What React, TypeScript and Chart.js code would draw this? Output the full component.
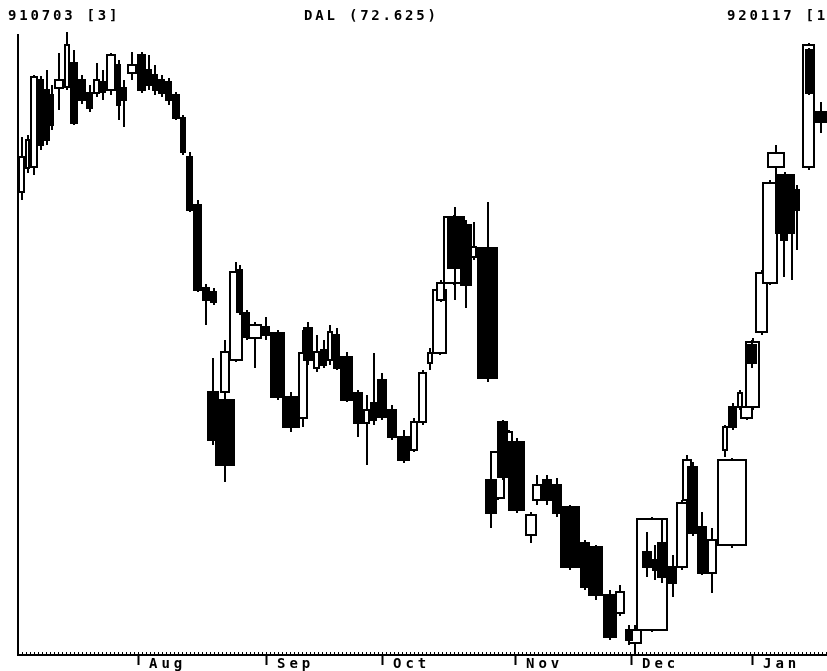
import React, { useEffect, useRef } from "react";
import { Chart, registerables } from "chart.js";

Chart.register(...registerables);

// ---- header texts ----
const headerLeft = "910703 [3]";
const headerCenter = "DAL (72.625)";
const headerRight = "920117 [140]";

// ---- month axis (cumulative volume where each month starts) ----
const monthLabels = ["Aug", "Sep", "Oct", "Nov", "Dec", "Jan"];
const monthStart = [120, 248, 364, 497, 613, 734];

// ---- candlevolume data: start (cumulative volume), volume (width), OHLC ----
const dayStart = [
  0, 7, 12, 20, 26, 32, 36, 46, 52, 60,
  68, 75, 82, 88, 98, 103, 109, 119, 128, 134,
  140, 147, 154, 162, 168, 175, 184, 192, 189, 197,
  202, 211, 218, 225, 230, 244, 252, 264, 280, 285,
  295, 302, 309, 315, 322, 335, 345, 352, 359, 369,
  379, 392, 400, 409, 414, 418, 425, 429, 442, 452,
  459, 467, 472, 479, 487, 490, 507, 514, 524, 534,
  542, 562, 570, 585, 597, 607, 610, 618, 624, 634,
  639, 650, 658, 664, 669, 679, 689, 699, 704, 710,
  719, 722, 727, 729, 737, 744, 749, 757, 762, 770,
  775, 784, 787, 797,
];
const dayVolume = [
  7, 5, 8, 6, 6, 4, 10, 6, 8, 8,
  7, 7, 6, 10, 5, 6, 10, 9, 6, 6,
  7, 7, 8, 6, 7, 9, 8, 7, 12, 20,
  10, 14, 7, 7, 14, 8, 15, 18, 10, 10,
  7, 7, 6, 7, 13, 10, 7, 7, 10, 10,
  13, 8, 9, 6, 15, 9, 22, 16, 12, 7,
  21, 12, 15, 11, 8, 17, 12, 10, 10, 10,
  20, 10, 15, 14, 10, 8, 14, 32, 10, 6,
  10, 9, 12, 10, 11, 10, 10, 30, 6, 9,
  6, 13, 15, 10, 13, 16, 18, 20, 8, 7,
  7, 13, 8, 12,
];
const openP = [
  69.15, 70.35, 70.4, 74.75, 74.25, 74.0, 74.35, 74.4, 75.6, 74.75,
  74.1, 74.1, 74.65, 74.25, 75.5, 74.35, 75.1, 76.0, 75.25, 75.0,
  74.75, 74.65, 74.0, 72.85, 70.9, 68.5, 64.35, 64.15, 59.15, 58.75,
  59.15, 60.75, 65.25, 63.1, 61.85, 62.4, 62.1, 58.9, 57.85, 62.35,
  60.35, 61.25, 60.75, 62.0, 60.9, 59.1, 57.6, 58.6, 59.75, 58.25,
  56.9, 56.25, 57.65, 60.6, 61.1, 63.75, 64.6, 67.85, 67.5, 65.9,
  66.35, 54.75, 53.85, 57.65, 55.1, 56.65, 52.0, 53.75, 54.75, 54.5,
  53.4, 51.6, 51.4, 49.0, 48.1, 47.25, 46.6, 47.25, 51.15, 50.75,
  51.6, 50.4, 50.4, 53.75, 55.4, 52.4, 50.1, 51.5, 56.25, 58.4,
  58.4, 57.85, 58.4, 61.5, 62.15, 64.6, 70.4, 70.0, 68.75, 69.0,
  69.25, 70.4, 76.25, 73.15,
];
const highP = [
  71.9, 72.0, 75.0, 74.95, 75.25, 74.5, 76.1, 77.15, 76.25, 75.0,
  74.5, 75.6, 75.25, 76.1, 75.75, 74.75, 76.15, 76.15, 76.0, 75.5,
  75.0, 74.85, 74.15, 73.0, 71.15, 68.75, 64.55, 64.35, 60.85, 59.0,
  61.75, 65.65, 65.5, 63.25, 62.65, 62.9, 62.25, 59.15, 62.25, 62.65,
  62.0, 61.75, 62.5, 62.35, 61.15, 59.25, 59.0, 61.1, 60.1, 58.5,
  57.25, 57.85, 60.25, 61.35, 64.5, 64.75, 68.0, 68.4, 67.75, 67.65,
  68.65, 55.25, 56.35, 57.75, 57.25, 56.85, 53.15, 55.0, 55.0, 54.85,
  53.5, 51.75, 51.5, 49.25, 49.5, 47.5, 47.5, 52.9, 52.15, 51.5,
  52.75, 51.0, 53.75, 56.0, 55.65, 53.15, 52.35, 55.85, 57.5, 58.6,
  59.25, 58.6, 61.85, 61.75, 65.25, 69.75, 71.5, 70.15, 69.0, 69.25,
  69.5, 76.6, 76.35, 73.65,
];
const lowP = [
  68.75, 70.1, 70.0, 71.25, 71.5, 72.25, 73.25, 74.25, 72.5, 73.55,
  73.15, 73.9, 73.75, 74.0, 72.75, 72.4, 74.75, 74.1, 74.25, 74.0,
  73.9, 73.5, 72.75, 71.0, 68.15, 64.15, 62.5, 63.5, 56.5, 54.65,
  59.0, 60.65, 63.0, 61.75, 60.35, 61.75, 58.75, 57.15, 57.4, 60.5,
  60.15, 60.35, 60.5, 60.25, 58.65, 56.9, 55.5, 57.5, 57.75, 56.75,
  55.6, 56.15, 57.5, 60.25, 61.0, 63.65, 64.5, 63.75, 63.35, 65.75,
  59.65, 52.35, 53.75, 54.75, 55.0, 53.1, 51.6, 53.5, 53.5, 52.9,
  50.25, 49.25, 48.75, 46.75, 47.95, 46.5, 46.0, 47.15, 49.9, 49.75,
  49.6, 48.9, 50.25, 53.65, 51.95, 50.0, 49.1, 51.35, 55.9, 57.25,
  58.25, 57.75, 58.25, 60.35, 62.0, 64.5, 70.0, 66.75, 64.9, 64.75,
  66.25, 70.25, 74.0, 72.1,
];
const closeP = [
  70.9, 71.75, 74.9, 71.5, 71.75, 72.5, 74.75, 76.5, 72.6, 73.75,
  73.35, 74.75, 74.15, 76.0, 73.5, 73.75, 75.5, 74.25, 74.5, 74.25,
  74.1, 73.75, 72.85, 71.15, 68.25, 64.25, 63.75, 63.65, 56.75, 55.5,
  61.15, 65.15, 63.15, 61.9, 62.5, 62.0, 58.9, 57.4, 61.1, 60.75,
  61.15, 60.5, 62.15, 60.35, 58.75, 57.6, 58.25, 57.75, 57.9, 56.9,
  55.75, 57.65, 60.1, 61.1, 64.25, 64.6, 67.9, 65.35, 64.5, 66.4,
  59.85, 53.1, 56.15, 54.9, 57.15, 53.25, 53.0, 54.5, 53.75, 53.1,
  50.4, 49.4, 49.0, 46.9, 49.15, 46.75, 47.25, 52.8, 50.4, 50.25,
  49.9, 49.6, 53.6, 55.75, 52.1, 50.1, 51.75, 55.75, 57.4, 57.4,
  59.1, 58.4, 61.65, 60.6, 65.1, 69.6, 71.1, 67.1, 66.75, 67.25,
  68.25, 76.5, 74.1, 72.625,
];

const X_MAX = 809;
const Y_MIN = 46;
const Y_MAX = 77;
const AXIS_MINOR_STEP = 4;

const MONO = "'DejaVu Sans Mono', 'Liberation Mono', monospace";

const count = () =>
  Math.min(dayStart.length, dayVolume.length, openP.length, highP.length, lowP.length, closeP.length);

const candlePlugin = {
  id: "candles",
  afterDatasetsDraw(chart: any) {
    const { ctx, scales } = chart;
    const xs = scales.x;
    const ys = scales.y;
    const n = count();
    const whites: number[] = [];
    const blacks: number[] = [];
    for (let i = 0; i < n; i++) (closeP[i] >= openP[i] ? whites : blacks).push(i);
    ctx.save();
    ctx.strokeStyle = "#000";
    ctx.lineWidth = 2;
    for (const i of [...whites, ...blacks]) {
      const x0 = Math.round(xs.getPixelForValue(dayStart[i]));
      const x1 = Math.round(xs.getPixelForValue(dayStart[i] + dayVolume[i]));
      const xm = Math.round((x0 + x1) / 2);
      const yo = ys.getPixelForValue(openP[i]);
      const yc = ys.getPixelForValue(closeP[i]);
      const yh = Math.round(ys.getPixelForValue(highP[i]));
      const yl = Math.round(ys.getPixelForValue(lowP[i]));
      const top = Math.round(Math.min(yo, yc));
      const bot = Math.round(Math.max(yo, yc));
      ctx.fillStyle = "#000";
      ctx.fillRect(xm - 1, yh, 2, yl - yh);
      if (closeP[i] >= openP[i]) {
        ctx.fillStyle = "#fff";
        ctx.fillRect(x0, top, x1 - x0, Math.max(bot - top, 1));
        ctx.strokeRect(x0 + 1, top, x1 - x0 - 2, Math.max(bot - top, 1));
      } else {
        ctx.fillStyle = "#000";
        ctx.fillRect(x0, top - 1, x1 - x0, Math.max(bot - top + 2, 2));
      }
    }
    ctx.restore();
  },
};

const decorPlugin = {
  id: "decor",
  afterDraw(chart: any) {
    const { ctx, scales, chartArea } = chart;
    const xs = scales.x;
    ctx.save();
    // minor ruler ticks along the bottom axis
    ctx.fillStyle = "#000";
    for (let v = 0; v <= X_MAX; v += AXIS_MINOR_STEP) {
      const px = Math.round(xs.getPixelForValue(v));
      ctx.fillRect(px, chartArea.bottom - 3, 1, 2);
    }
    // month labels, to the right of each month tick
    (ctx as any).letterSpacing = "4px";
    ctx.font = `bold 14px ${MONO}`;
    ctx.textBaseline = "alphabetic";
    ctx.textAlign = "left";
    monthStart.forEach((v, k) => {
      const px = xs.getPixelForValue(v);
      ctx.fillText(monthLabels[k], px + 11, chartArea.bottom + 13);
    });
    // header line
    (ctx as any).letterSpacing = "2.8px";
    ctx.fillText(headerLeft, 8, 20);
    ctx.fillText(headerCenter, 304, 20);
    ctx.fillText(headerRight, 727, 20);
    ctx.restore();
  },
};

export default function App() {
  const canvasRef = useRef<HTMLCanvasElement | null>(null);

  useEffect(() => {
    const canvas = canvasRef.current;
    if (!canvas) return;
    const n = count();
    const points = [] as { x: number; y: number }[];
    for (let i = 0; i < n; i++) points.push({ x: dayStart[i] + dayVolume[i] / 2, y: closeP[i] });

    const chart = new Chart(canvas, {
      type: "scatter",
      data: {
        datasets: [
          {
            label: "DAL",
            data: points,
            pointRadius: 0,
            pointHoverRadius: 0,
            showLine: false,
          },
        ],
      },
      options: {
        animation: false,
        responsive: false,
        devicePixelRatio: 1,
        events: [],
        layout: { padding: { left: 18, top: 35, right: 0, bottom: 6 } },
        plugins: {
          legend: { display: false },
          tooltip: { enabled: false },
          title: { display: false },
        },
        scales: {
          x: {
            type: "linear",
            min: 0,
            max: X_MAX,
            position: "bottom",
            afterBuildTicks: (scale: any) => {
              scale.ticks = monthStart.map((v) => ({ value: v }));
            },
            grid: {
              display: true,
              drawOnChartArea: false,
              drawTicks: true,
              tickLength: 10,
              tickWidth: 2,
              tickColor: "#000",
              color: "#000",
            },
            border: { display: true, color: "#000", width: 2 },
            ticks: { display: false },
          },
          y: {
            type: "linear",
            min: Y_MIN,
            max: Y_MAX,
            position: "left",
            grid: { display: false, drawTicks: false },
            border: { display: true, color: "#000", width: 2 },
            ticks: { display: false },
          },
        },
      },
      plugins: [candlePlugin, decorPlugin],
    } as any);

    return () => chart.destroy();
  }, []);

  return (
    <div style={{ position: "absolute", left: 0, top: 0, width: 827, height: 671, background: "#fff" }}>
      <canvas ref={canvasRef} width={827} height={671} style={{ display: "block", width: 827, height: 671 }} />
    </div>
  );
}
